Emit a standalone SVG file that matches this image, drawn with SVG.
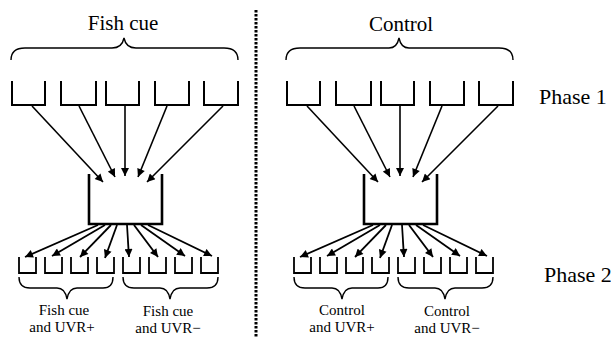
<svg xmlns="http://www.w3.org/2000/svg" width="611" height="337" viewBox="0 0 611 337">
<style>
.cup{fill:none;stroke:#000;stroke-width:2;stroke-linejoin:miter}
.box{fill:none;stroke:#000;stroke-width:2.6}
.cup2{fill:none;stroke:#000;stroke-width:1.8}
.brace{fill:none;stroke:#000;stroke-width:1.4}
.ln{fill:none;stroke:#000;stroke-width:1.6;marker-end:url(#ah)}
.ln2{fill:none;stroke:#000;stroke-width:1.8;marker-end:url(#ah)}
text{font-family:'Liberation Serif','Times New Roman',serif;fill:#000;text-anchor:middle}
.title{font-size:21px}
.lab{font-size:15px}
.ph{font-size:22px;text-anchor:start}
</style>
<defs>
<marker id="ah" viewBox="0 0 10 10" refX="10" refY="5" markerWidth="10" markerHeight="8" markerUnits="userSpaceOnUse" orient="auto">
<path d="M0,0 L10,5 L0,10 z" fill="#000"/>
</marker>
</defs>
<rect width="611" height="337" fill="#fff"/>

<line id="divider" x1="256" y1="10" x2="256" y2="337" stroke="#000" stroke-width="3" stroke-dasharray="2.6 1.4"/>

<g id="left">
<g id="fish-title"><text class="title" x="123" y="30">Fish cue</text>
<path class="brace" d="M11,60 Q11,48 25,48 L112,48 Q122,48 124,38 Q126,48 136,48 L224,48 Q238,48 238,60"/></g>
<g id="fp1-1"><path class="cup" d="M12,81 V105 H45 V81"/></g>
<g id="fp1-2"><path class="cup" d="M61,81 V105 H96 V81"/></g>
<g id="fp1-3"><path class="cup" d="M106,81 V105 H139 V81"/></g>
<g id="fp1-4"><path class="cup" d="M155,81 V105 H189 V81"/></g>
<g id="fp1-5"><path class="cup" d="M204,81 V105 H238 V81"/></g>
<g id="f-pool"><path class="box" d="M89,174 V224 H162 V174"/></g>
<g id="fp2-1"><path class="cup2" d="M19,257 V273 H36 V257"/></g>
<g id="fp2-2"><path class="cup2" d="M45,257 V273 H62 V257"/></g>
<g id="fp2-3"><path class="cup2" d="M71,257 V273 H88 V257"/></g>
<g id="fp2-4"><path class="cup2" d="M97,257 V273 H114 V257"/></g>
<g id="fp2-5"><path class="cup2" d="M123,257 V273 H140 V257"/></g>
<g id="fp2-6"><path class="cup2" d="M149,257 V273 H166 V257"/></g>
<g id="fp2-7"><path class="cup2" d="M175,257 V273 H192 V257"/></g>
<g id="fp2-8"><path class="cup2" d="M201,257 V273 H218 V257"/></g>
<g id="f-uvp"><path class="brace" d="M19,277 Q19,288 30,288 L57,288 Q65,288 67,299 Q69,288 77,288 L103,288 Q113,288 113,277"/>
<text class="lab" x="64" y="315">Fish cue</text><text class="lab" x="62" y="332">and UVR+</text></g>
<g id="f-uvm"><path class="brace" d="M123,277 Q123,288 134,288 L160,288 Q168,288 170,299 Q172,288 180,288 L207,288 Q218,288 218,277"/>
<text class="lab" x="168" y="316">Fish cue</text><text class="lab" x="168" y="333">and UVR−</text></g>
<g id="f-connectors">
<path class="ln" d="M32,106 L103,182"/>
<path class="ln" d="M79,106 L115,177"/>
<path class="ln" d="M125,106 L125,176"/>
<path class="ln" d="M167,106 L138,177"/>
<path class="ln" d="M223,106 L147,182"/>
<path class="ln2" d="M98,225 L25,257"/>
<path class="ln2" d="M105,225 L52,256"/>
<path class="ln2" d="M111,225 L80,257"/>
<path class="ln2" d="M117,225 L105,258"/>
<path class="ln2" d="M127,225 L129,257"/>
<path class="ln2" d="M134,225 L158,257"/>
<path class="ln2" d="M141,225 L185,256"/>
<path class="ln2" d="M148,225 L212,256"/>
</g>
</g>

<g id="right" transform="translate(275,0)">
<g id="control-title"><text class="title" x="126" y="31">Control</text>
<path class="brace" d="M11,60 Q11,48 25,48 L114,48 Q122,48 124,38 Q126,48 134,48 L224,48 Q238,48 238,60"/></g>
<g id="cp1-1"><path class="cup" d="M12,81 V105 H45 V81"/></g>
<g id="cp1-2"><path class="cup" d="M61,81 V105 H96 V81"/></g>
<g id="cp1-3"><path class="cup" d="M106,81 V105 H139 V81"/></g>
<g id="cp1-4"><path class="cup" d="M155,81 V105 H189 V81"/></g>
<g id="cp1-5"><path class="cup" d="M204,81 V105 H238 V81"/></g>
<g id="c-pool"><path class="box" d="M89,174 V224 H162 V174"/></g>
<g id="cp2-1"><path class="cup2" d="M19,257 V273 H36 V257"/></g>
<g id="cp2-2"><path class="cup2" d="M45,257 V273 H62 V257"/></g>
<g id="cp2-3"><path class="cup2" d="M71,257 V273 H88 V257"/></g>
<g id="cp2-4"><path class="cup2" d="M97,257 V273 H114 V257"/></g>
<g id="cp2-5"><path class="cup2" d="M123,257 V273 H140 V257"/></g>
<g id="cp2-6"><path class="cup2" d="M149,257 V273 H166 V257"/></g>
<g id="cp2-7"><path class="cup2" d="M175,257 V273 H192 V257"/></g>
<g id="cp2-8"><path class="cup2" d="M201,257 V273 H218 V257"/></g>
<g id="c-uvp"><path class="brace" d="M19,277 Q19,288 30,288 L57,288 Q65,288 67,299 Q69,288 77,288 L103,288 Q113,288 113,277"/>
<text class="lab" x="67" y="315">Control</text><text class="lab" x="67" y="332">and UVR+</text></g>
<g id="c-uvm"><path class="brace" d="M123,277 Q123,288 134,288 L160,288 Q168,288 170,299 Q172,288 180,288 L207,288 Q218,288 218,277"/>
<text class="lab" x="172" y="316">Control</text><text class="lab" x="172" y="333">and UVR−</text></g>
<g id="c-connectors">
<path class="ln" d="M32,106 L103,182"/>
<path class="ln" d="M79,106 L115,177"/>
<path class="ln" d="M125,106 L125,176"/>
<path class="ln" d="M167,106 L138,177"/>
<path class="ln" d="M223,106 L147,182"/>
<path class="ln2" d="M98,225 L25,257"/>
<path class="ln2" d="M105,225 L52,256"/>
<path class="ln2" d="M111,225 L80,257"/>
<path class="ln2" d="M117,225 L105,258"/>
<path class="ln2" d="M127,225 L129,257"/>
<path class="ln2" d="M134,225 L158,257"/>
<path class="ln2" d="M141,225 L185,256"/>
<path class="ln2" d="M148,225 L212,256"/>
</g>
</g>

<g id="phase1"><text class="ph" x="539" y="104">Phase 1</text></g>
<g id="phase2"><text class="ph" x="544" y="282">Phase 2</text></g>
</svg>
